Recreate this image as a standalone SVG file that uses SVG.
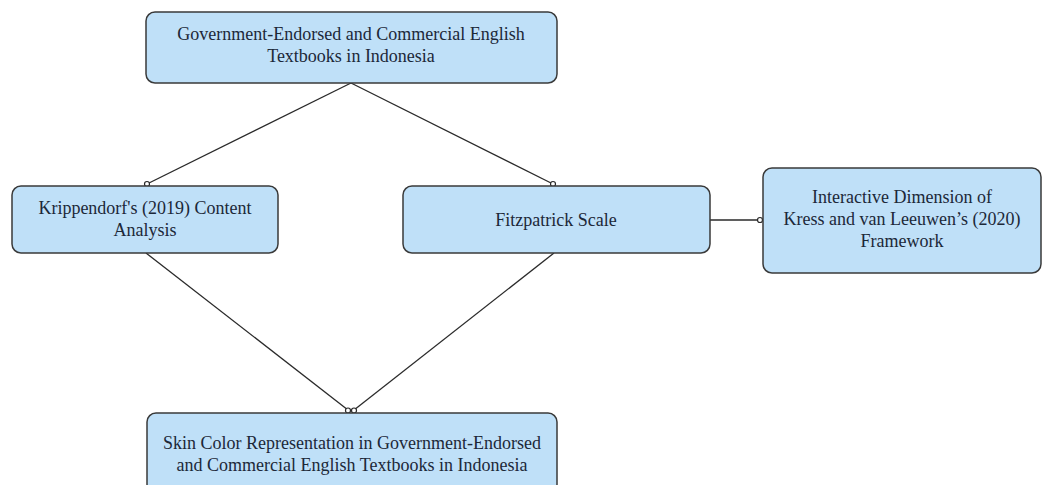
<svg xmlns="http://www.w3.org/2000/svg" width="1047" height="485" viewBox="0 0 1047 485">
<style>
.box{fill:#bfe0f8;stroke:#3a3a3a;stroke-width:1.5}
.t{font-family:"Liberation Serif","Times New Roman",serif;font-size:18px;fill:#1c2838;text-anchor:middle}
.c{stroke:#2a2a2a;stroke-width:1.3;fill:none}
.dot{fill:#ffffff;stroke:#2a2a2a;stroke-width:1.2}
</style>
<rect width="1047" height="485" fill="#ffffff"/>
<g id="connectors">
<line class="c" x1="351" y1="83" x2="147" y2="184"/>
<line class="c" x1="351" y1="83" x2="553" y2="184"/>
<line class="c" x1="146" y1="253" x2="348" y2="410"/>
<line class="c" x1="554" y1="253" x2="354" y2="410"/>
<line class="c" x1="710" y1="220" x2="760" y2="220"/>
<circle class="dot" cx="147" cy="184" r="2.5"/>
<circle class="dot" cx="553" cy="184" r="2.5"/>
<circle class="dot" cx="348" cy="410.5" r="2.5"/>
<circle class="dot" cx="354" cy="410.5" r="2.5"/>
<circle class="dot" cx="760" cy="220" r="2.5"/>
</g>
<g id="n-top">
<rect class="box" x="146" y="12" width="411" height="71" rx="9"/>
<text class="t" x="351" y="40">Government-Endorsed and Commercial English</text>
<text class="t" x="351" y="62">Textbooks in Indonesia</text>
</g>
<g id="n-krippendorf">
<rect class="box" x="12" y="186" width="266" height="67" rx="9"/>
<text class="t" x="145" y="214">Krippendorf's (2019) Content</text>
<text class="t" x="145" y="236">Analysis</text>
</g>
<g id="n-fitzpatrick">
<rect class="box" x="403" y="186" width="307" height="67" rx="9"/>
<text class="t" x="556" y="226">Fitzpatrick Scale</text>
</g>
<g id="n-interactive">
<rect class="box" x="763" y="168" width="278" height="105" rx="9"/>
<text class="t" x="902" y="203">Interactive Dimension of</text>
<text class="t" x="902" y="225">Kress and van Leeuwen’s (2020)</text>
<text class="t" x="902" y="247">Framework</text>
</g>
<g id="n-bottom">
<rect class="box" x="147" y="413" width="410" height="80" rx="9"/>
<text class="t" x="352" y="449">Skin Color Representation in Government-Endorsed</text>
<text class="t" x="352" y="471">and Commercial English Textbooks in Indonesia</text>
</g>
</svg>
